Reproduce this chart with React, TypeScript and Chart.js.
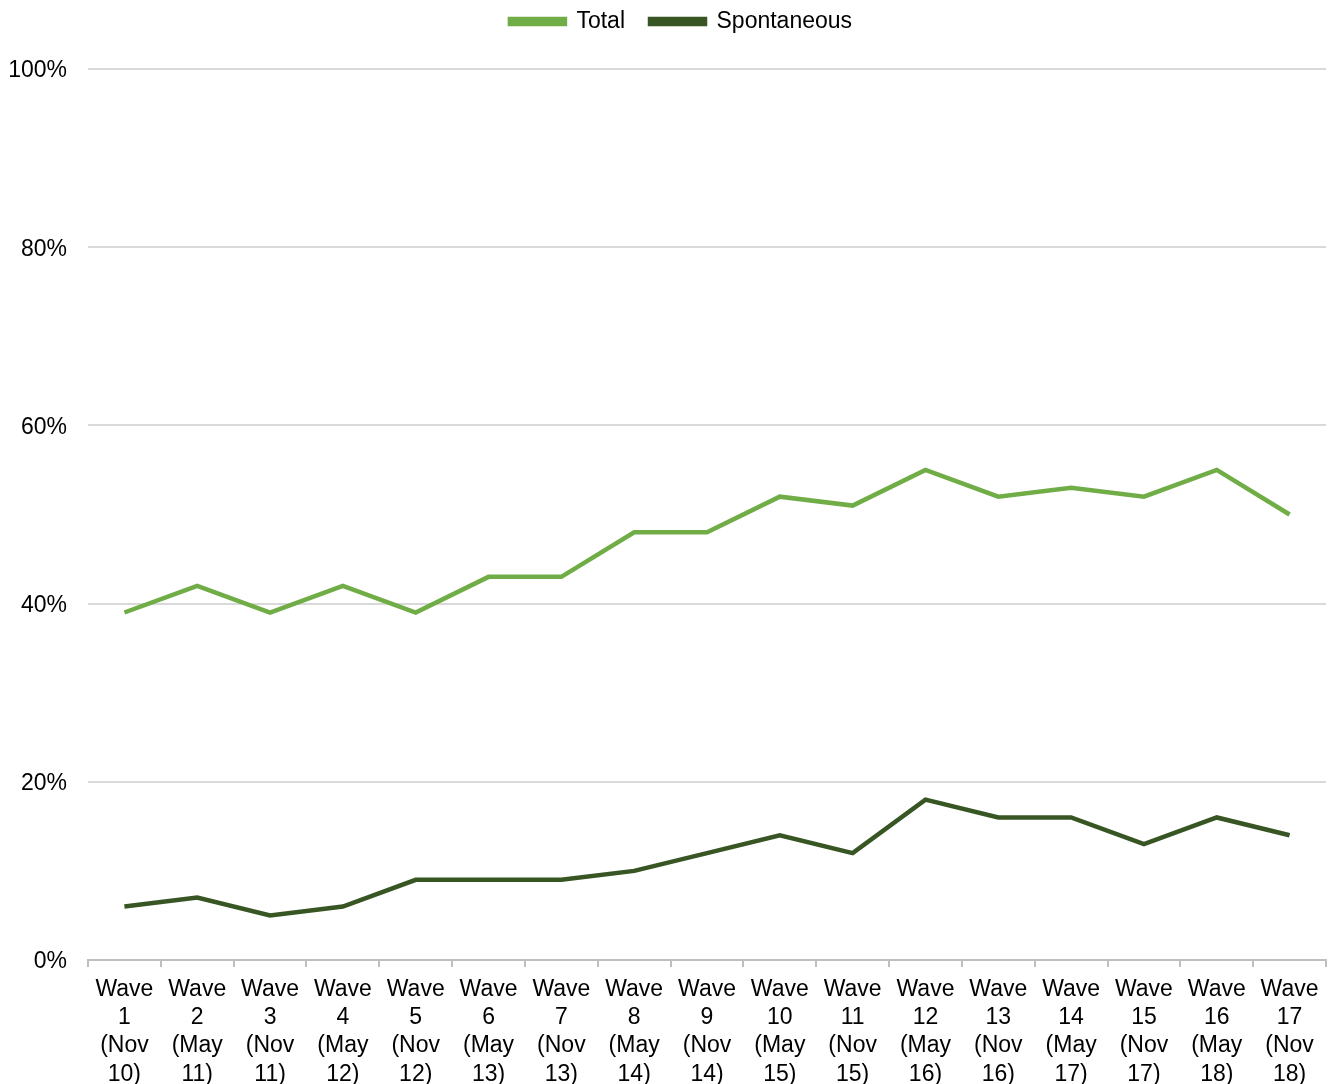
import React, { useEffect, useRef } from "react";
import { Chart, registerables } from "chart.js";

Chart.register(...registerables);

const categories: string[][] = [
  ["Wave", "1", "(Nov", "10)"],
  ["Wave", "2", "(May", "11)"],
  ["Wave", "3", "(Nov", "11)"],
  ["Wave", "4", "(May", "12)"],
  ["Wave", "5", "(Nov", "12)"],
  ["Wave", "6", "(May", "13)"],
  ["Wave", "7", "(Nov", "13)"],
  ["Wave", "8", "(May", "14)"],
  ["Wave", "9", "(Nov", "14)"],
  ["Wave", "10", "(May", "15)"],
  ["Wave", "11", "(Nov", "15)"],
  ["Wave", "12", "(May", "16)"],
  ["Wave", "13", "(Nov", "16)"],
  ["Wave", "14", "(May", "17)"],
  ["Wave", "15", "(Nov", "17)"],
  ["Wave", "16", "(May", "18)"],
  ["Wave", "17", "(Nov", "18)"],
];

const totalValues = [39, 42, 39, 42, 39, 43, 43, 48, 48, 52, 51, 55, 52, 53, 52, 55, 50];
const spontaneousValues = [6, 7, 5, 6, 9, 9, 9, 10, 12, 14, 12, 18, 16, 16, 13, 16, 14];

const FONT = "'Liberation Sans', Arial, sans-serif";

const legendHeightPlugin = {
  id: "legendHeight",
  beforeLayout(chart: any) {
    const legend = chart.legend;
    if (legend && !legend._patched) {
      const orig = legend.fit;
      legend.fit = function () {
        orig.call(this);
        this.height = 84;
      };
      legend._patched = true;
    }
  },
  afterLayout(chart: any) {
    if (chart.legend) {
      chart.legend.left = 36;
    }
  },
};

export default function App() {
  const ref = useRef<HTMLCanvasElement | null>(null);
  useEffect(() => {
    document.body.style.margin = "0";
    if (!ref.current) return;
    const chart = new Chart(ref.current, {
      type: "line",
      data: {
        labels: categories,
        datasets: [
          {
            label: "Total",
            data: totalValues,
            borderColor: "#70AD47",
            backgroundColor: "#70AD47",
            borderWidth: 4.5,
            pointRadius: 0,
            tension: 0,
          },
          {
            label: "Spontaneous",
            data: spontaneousValues,
            borderColor: "#375623",
            backgroundColor: "#375623",
            borderWidth: 4.5,
            pointRadius: 0,
            tension: 0,
          },
        ],
      },
      options: {
        responsive: false,
        animation: false,
        layout: { padding: { top: -15, right: 10, left: 0, bottom: 0 } },
        plugins: {
          legend: {
            position: "top",
            labels: {
              boxWidth: 55,
              boxHeight: 5,
              padding: 25,
              color: "#000",
              font: { family: FONT, size: 23 },
            },
          },
          tooltip: { enabled: false },
        },
        scales: {
          x: {
            offset: true,
            grid: {
              offset: true,
              drawOnChartArea: false,
              drawTicks: true,
              tickLength: 7,
              color: "#bfbfbf",
              lineWidth: 2,
            },
            border: { display: true, color: "#bfbfbf", width: 2 },
            ticks: {
              color: "#000",
              font: { family: FONT, size: 23, lineHeight: 1.22 },
              padding: 9,
              maxRotation: 0,
              autoSkip: false,
            },
            afterFit(scale: any) {
              scale.height = 124;
            },
          },
          y: {
            min: 0,
            max: 100,
            ticks: {
              stepSize: 20,
              color: "#000",
              font: { family: FONT, size: 23 },
              padding: 21,
              labelOffset: 2,
              callback: (v: any) => v + "%",
            },
            grid: { color: "#d9d9d9", lineWidth: 2, drawTicks: false },
            border: { display: false },
            afterFit(scale: any) {
              scale.width = 88;
            },
          },
        },
      },
      plugins: [legendHeightPlugin],
    });
    return () => chart.destroy();
  }, []);
  return <canvas ref={ref} width={1336} height={1084} style={{ display: "block" }} />;
}
